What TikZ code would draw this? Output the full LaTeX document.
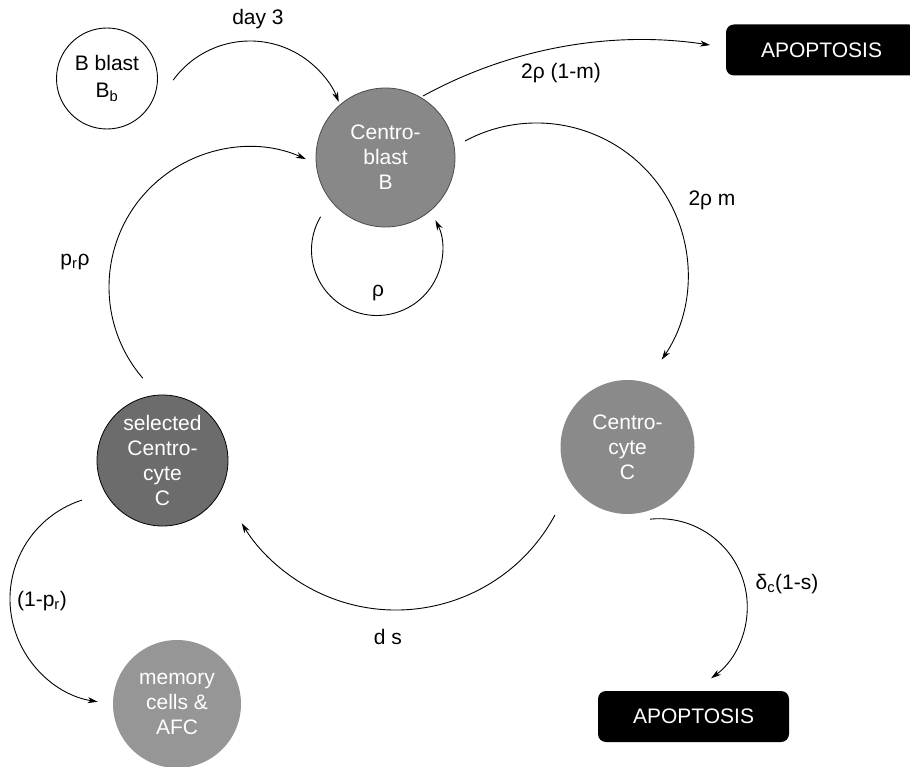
\documentclass[tikz,border=0pt]{standalone}
\usepackage{fontspec}
\setmainfont{Liberation Sans}
\usetikzlibrary{arrows.meta,calc}
\definecolor{cbgray}{RGB}{136,136,136}
\definecolor{ccgray}{RGB}{138,138,138}
\definecolor{scgray}{RGB}{108,108,108}
\definecolor{memgray}{RGB}{150,150,150}
\begin{document}
\begin{tikzpicture}[x=1pt,y=-1pt,
  every node/.style={font=\fontsize{21}{25}\selectfont},
  cell/.style={circle, inner sep=0pt, align=center, text=white},
  conn/.style={line width=0.9pt, -{Stealth[length=10pt,width=6pt,inset=3pt]}},
  deathbox/.style={fill=black, rounded corners=8pt, text=white, minimum width=191pt, minimum height=51pt, inner sep=0pt},
  lbl/.style={inner sep=0pt}]
\useasboundingbox (0,0) rectangle (910,767);

% nodes
\node[cell, draw=black, line width=0.9pt, fill=white, text=black, minimum size=101pt] (bb) at (107,78.5) {B blast\\[2pt]B\textsubscript{b}};
\node[cell, fill=cbgray, draw=black!70, line width=0.8pt, minimum size=139pt] (cb) at (385.5,157.5) {Centro-\\blast\\B};
\node[cell, fill=ccgray, minimum size=134pt] (cc) at (627.5,447) {Centro-\\cyte\\C};
\node[cell, fill=scgray, draw=black, line width=0.8pt, minimum size=131pt] (sc) at (162.5,460.5) {selected\\Centro-\\cyte\\C};
\node[cell, fill=memgray, minimum size=128pt] (mem) at (177,704) {memory\\cells \&\\AFC};
\node[deathbox] (ap1) at (821.5,50) {APOPTOSIS};
\node[deathbox] (ap2) at (693.5,716.5) {APOPTOSIS};

% arc centres and start points
\coordinate (c1) at (250,136);     \coordinate (s1) at ($(c1)+(-144:95)$);
\coordinate (c2) at (642,495.6);   \coordinate (s2) at ($(c2)+(-118.7:455.7)$);
\coordinate (c3) at (536.6,274.4); \coordinate (s3) at ($(c3)+(-118.2:151.4)$);
\coordinate (c4) at (377,250);     \coordinate (s4) at ($(c4)+(210.5:65.5)$);
\coordinate (c5) at (249,287);     \coordinate (s5) at ($(c5)+(139.4:140)$);
\coordinate (c6) at (396,429.5);   \coordinate (s6) at ($(c6)+(28.3:180.5)$);
\coordinate (c7) at (114,599);     \coordinate (s7) at ($(c7)+(252:104)$);
\coordinate (c8) at (659,607);     \coordinate (s8) at ($(c8)+(-95.8:88.3)$);

% connectors
\draw[conn] (s1) arc[start angle=-144, end angle=-21, radius=95];
\draw[conn] (s2) arc[start angle=-118.7, end angle=-81.4, radius=455.7];
\draw[conn] (s3) arc[start angle=-118.2, end angle=34.3, radius=151.4];
\draw[conn] (s4) arc[start angle=210.5, end angle=-27, radius=65.5];
\draw[conn] (s5) arc[start angle=139.4, end angle=294, radius=140];
\draw[conn] (s6) arc[start angle=28.3, end angle=148.7, radius=180.5];
\draw[conn] (s7) arc[start angle=252, end angle=99, radius=104];
\draw[conn] (s8) arc[start angle=-95.8, end angle=53.8, radius=88.3];

% labels
\node[lbl] (l1) at (258,19) {day 3};
\node[lbl] (l2) at (561,73) {2ρ (1-m)};
\node[lbl] (l3) at (712,200) {2ρ m};
\node[lbl] (l4) at (378,293) {ρ};
\node[lbl] (l5) at (75,262) {p\textsubscript{r}ρ};
\node[lbl] (l6) at (388,637) {d s};
\node[lbl] (l7) at (42,601) {(1-p\textsubscript{r})};
\node[lbl] (l8) at (787,584) {δ\textsubscript{c}(1-s)};
\end{tikzpicture}
\end{document}
